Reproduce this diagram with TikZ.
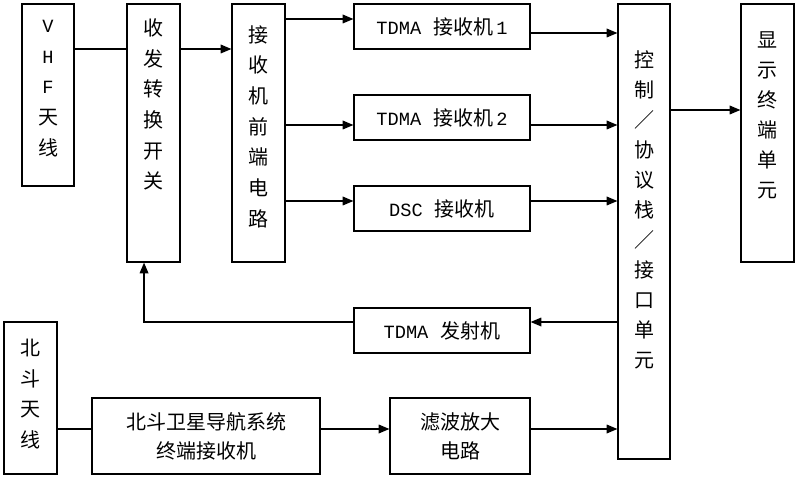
\documentclass[tikz,border=0pt]{standalone}
\usepackage{fontspec}
\setmainfont{Noto Sans CJK SC}
\newfontfamily\lat{Liberation Mono}
\usetikzlibrary{arrows.meta}

\begin{document}
\begin{tikzpicture}[x=0.75pt,y=-0.75pt,
	blk/.style={draw,line width=0.9pt,inner sep=0pt},
	txt/.style={align=center,inner sep=0pt,font=\fontsize{15}{23}\selectfont},
	ln/.style={line width=0.9pt},
	arr/.style={line width=0.9pt,-{Triangle[length=8pt,width=6.5pt]}}]
			\useasboundingbox (0,0) rectangle (800,481);
			% boxes
			\node[blk,minimum width=39pt,minimum height=136.5pt] (vhf) at (48,95) {};
			\node[blk,minimum width=39.75pt,minimum height=193.5pt] (sw) at (153.5,133) {};
			\node[blk,minimum width=39.75pt,minimum height=193.5pt] (fe) at (258.5,133) {};
			\node[blk,minimum width=132pt,minimum height=33.75pt] (rx1) at (442,26.5) {};
			\node[blk,minimum width=132pt,minimum height=33.75pt] (rx2) at (442,117.5) {};
			\node[blk,minimum width=132pt,minimum height=33.75pt] (dsc) at (442,208.5) {};
			\node[blk,minimum width=132pt,minimum height=33.75pt] (tx) at (442,330.5) {};
			\node[blk,minimum width=39pt,minimum height=341.25pt] (ctl) at (644,231.5) {};
			\node[blk,minimum width=39.75pt,minimum height=193.5pt] (disp) at (767.5,133) {};
			\node[blk,minimum width=39.75pt,minimum height=114pt] (bdant) at (30.5,398) {};
			\node[blk,minimum width=171pt,minimum height=57pt] (bdrx) at (206,436) {};
			\node[blk,minimum width=105pt,minimum height=57pt] (flt) at (460,436) {};
			% texts
			\node[txt] at (48,88.5) {{\lat\fontsize{14}{23}\selectfont V}\\{\lat\fontsize{14}{23}\selectfont H}\\{\lat\fontsize{14}{23}\selectfont F}\\天\\线};
			\node[txt] at (153.5,104.5) {收\\发\\转\\换\\开\\关};
			\node[txt] at (258.5,126.5) {接\\收\\机\\前\\端\\电\\路};
			\node[txt] at (rx1) {{\lat\fontsize{14}{15}\selectfont TDMA}\hspace{0.6em}接收机\hspace{0.15em}{\lat\fontsize{14}{15}\selectfont 1}};
			\node[txt] at (rx2) {{\lat\fontsize{14}{15}\selectfont TDMA}\hspace{0.6em}接收机\hspace{0.15em}{\lat\fontsize{14}{15}\selectfont 2}};
			\node[txt] at (dsc) {{\lat\fontsize{14}{15}\selectfont DSC}\hspace{0.6em}接收机};
			\node[txt] at (tx) {{\lat\fontsize{14}{15}\selectfont TDMA}\hspace{0.6em}发射机};
			\node[txt,font=\fontsize{15}{22.5}\selectfont] at (644,210) {控\\制\\／\\协\\议\\栈\\／\\接\\口\\单\\元};
			\node[txt,font=\fontsize{15}{22.5}\selectfont] at (767.5,115) {显\\示\\终\\端\\单\\元};
			\node[txt] at (30.5,394) {北\\斗\\天\\线};
			\node[txt,font=\fontsize{15}{21.75}\selectfont] at (bdrx) {北斗卫星导航系统\\终端接收机};
			\node[txt,font=\fontsize{15}{21.75}\selectfont] at (flt) {滤波放大\\电路};
			% connectors
			\draw [ln] (vhf.east |- 0,49) -- (sw.west |- 0,49);
			\draw [arr] (sw.east |- 0,49) -- (fe.west |- 0,49);
			\draw [arr] (fe.east |- 0,19) -- (rx1.west |- 0,19);
			\draw [arr] (fe.east |- 0,125) -- (rx2.west |- 0,125);
			\draw [arr] (fe.east |- 0,201) -- (dsc.west |- 0,201);
			\draw [arr] (rx1.east |- 0,33) -- (ctl.west |- 0,33);
			\draw [arr] (rx2.east |- 0,125) -- (ctl.west |- 0,125);
			\draw [arr] (dsc.east |- 0,201) -- (ctl.west |- 0,201);
			\draw [arr] (ctl.east |- 0,110) -- (disp.west |- 0,110);
			\draw [arr] (ctl.west |- 0,322) -- (tx.east |- 0,322);
			\draw [arr] (tx.west |- 0,322) -| ([xshift=-7.1pt]sw.south);
			\draw [ln] (bdant.east |- 0,429) -- (bdrx.west |- 0,429);
			\draw [arr] (bdrx.east |- 0,429) -- (flt.west |- 0,429);
			\draw [arr] (flt.east |- 0,429) -- (ctl.west |- 0,429);
\end{tikzpicture}
\end{document}
